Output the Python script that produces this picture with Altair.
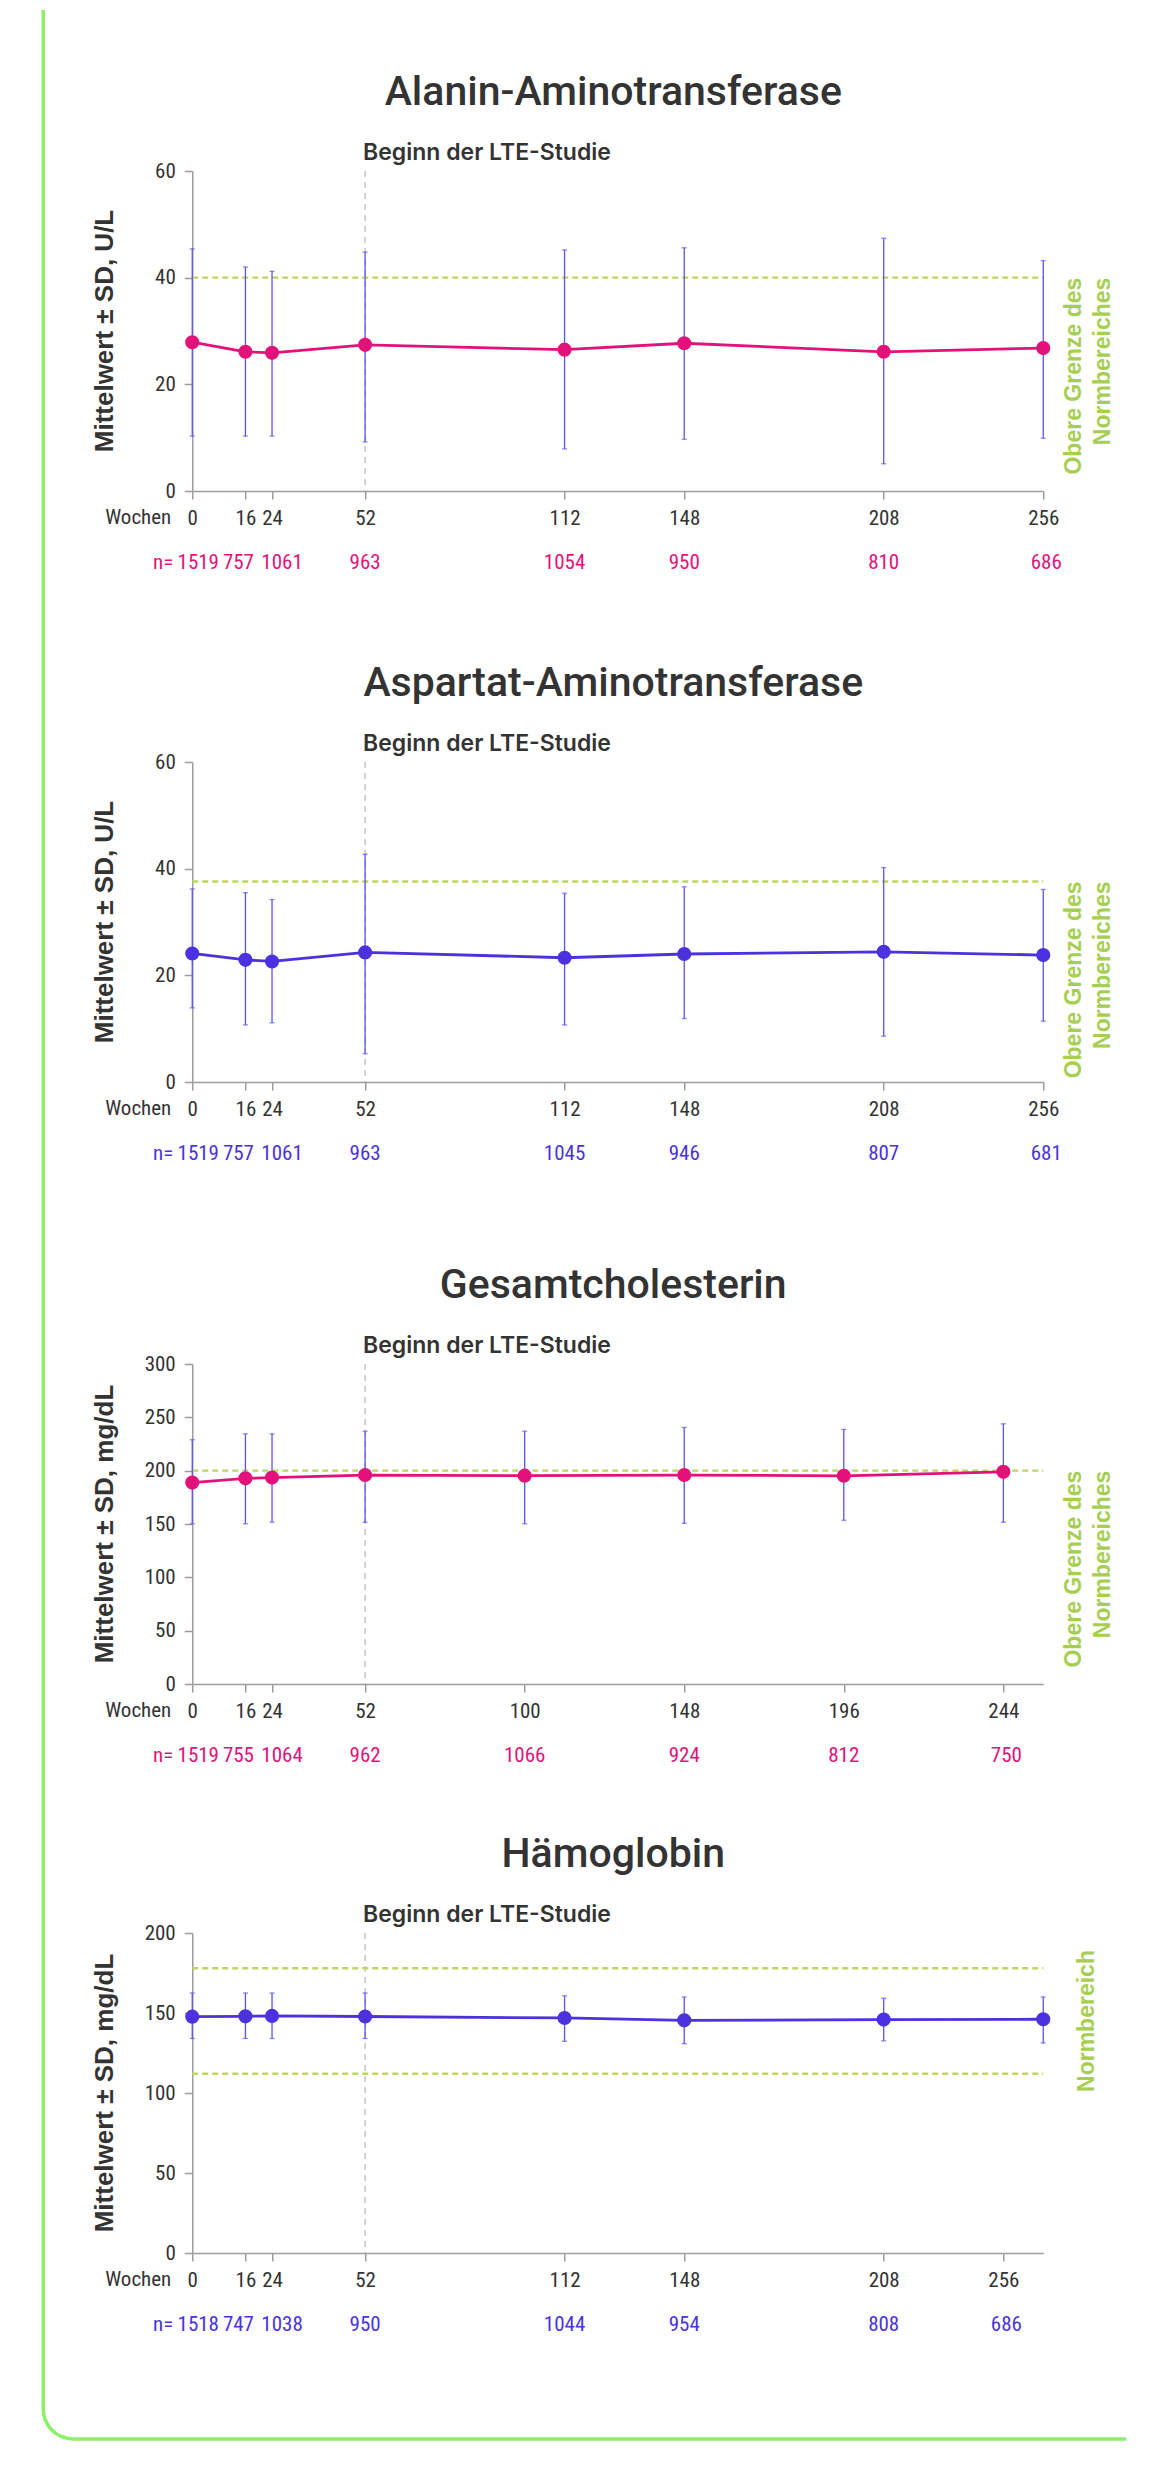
import math
import altair as alt
import pandas as pd

# ---------------- data ----------------
TITLES = ["Alanin-Aminotransferase", "Aspartat-Aminotransferase", "Gesamtcholesterin", "Hämoglobin"]
Y_TITLES = ["Mittelwert ± SD, U/L", "Mittelwert ± SD, U/L", "Mittelwert ± SD, mg/dL", "Mittelwert ± SD, mg/dL"]
SUBTITLE = "Beginn der LTE-Studie"
LTE_WEEK = 52
X_LABEL = "Wochen"
N_LABEL = "n="

# Alanin-Aminotransferase
alt_weeks = [0, 16, 24, 52, 112, 148, 208, 256]
alt_mean = [27.9, 26.1, 25.9, 27.4, 26.5, 27.7, 26.1, 26.8]
alt_hi = [45.4, 42.0, 41.2, 44.8, 45.2, 45.6, 47.4, 43.2]
alt_lo = [10.3, 10.3, 10.3, 9.2, 7.9, 9.7, 5.1, 9.9]
alt_n = [1519, 757, 1061, 963, 1054, 950, 810, 686]
alt_ticks = [0, 16, 24, 52, 112, 148, 208, 256]
alt_tick_labels = ["0", "16", "24", "52", "112", "148", "208", "256"]
alt_ref = [40]

# Aspartat-Aminotransferase
ast_weeks = [0, 16, 24, 52, 112, 148, 208, 256]
ast_mean = [24.1, 22.9, 22.6, 24.3, 23.3, 24.0, 24.4, 23.8]
ast_hi = [36.2, 35.5, 34.2, 42.7, 35.4, 36.6, 40.2, 36.1]
ast_lo = [13.9, 10.7, 11.1, 5.3, 10.7, 11.9, 8.6, 11.4]
ast_n = [1519, 757, 1061, 963, 1045, 946, 807, 681]
ast_ticks = [0, 16, 24, 52, 112, 148, 208, 256]
ast_tick_labels = ["0", "16", "24", "52", "112", "148", "208", "256"]
ast_ref = [37.6]

# Gesamtcholesterin
chol_weeks = [0, 16, 24, 52, 100, 148, 196, 244]
chol_mean = [188.8, 192.8, 193.5, 195.9, 195.3, 195.9, 195.2, 198.9]
chol_hi = [229.0, 234.5, 234.5, 237.0, 237.0, 240.5, 238.7, 243.9]
chol_lo = [150.2, 150.2, 151.7, 151.7, 150.2, 150.6, 153.5, 151.7]
chol_n = [1519, 755, 1064, 962, 1066, 924, 812, 750]
chol_ticks = [0, 16, 24, 52, 100, 148, 196, 244]
chol_tick_labels = ["0", "16", "24", "52", "100", "148", "196", "244"]
chol_ref = [200]

# Hämoglobin
hb_weeks = [0, 16, 24, 52, 112, 148, 208, 256]
hb_mean = [147.7, 147.9, 148.2, 147.8, 146.9, 145.4, 145.9, 146.1]
hb_hi = [162.5, 162.5, 162.5, 162.5, 160.8, 160.0, 159.2, 160.0]
hb_lo = [134.1, 134.1, 134.1, 134.1, 132.3, 130.8, 132.6, 131.3]
hb_n = [1518, 747, 1038, 950, 1044, 954, 808, 686]
hb_ticks = [0, 16, 24, 52, 112, 148, 208, 244]
hb_tick_labels = ["0", "16", "24", "52", "112", "148", "208", "256"]
hb_ref = [178, 112]

REF_TEXT_UPPER = "Obere Grenze des\nNormbereiches"
REF_TEXT_RANGE = "Normbereich"

# ---------------- styles ----------------
W, H = 851, 320
PINK = "#e2127a"
BLUE = "#4a32df"
ERR = "#5d52f2"
GREEN_TXT = "#a6cf52"
GREEN_LINE = "#bcd660"
BORDER = "#8cf068"
DARK = "#333333"
AXIS_GRAY = "#9d9d9d"
NARROW = "'Liberation Sans Narrow', 'Roboto Condensed', 'Liberation Sans', sans-serif"
TITLE_FONT = "Roboto"
SUB_FONT = "Inter, Roboto, sans-serif"
WIDE_BOLD = "'Liberation Sans', Arial, sans-serif"
N_DX = [6, -7, 10, 0, 0, 0, 0, 3]   # small horizontal nudges of the n labels (style)

one = pd.DataFrame({"k": [0]})


def label_expr(vals, labels):
    expr = "datum.label"
    for v, l in zip(vals, labels):
        expr = f"datum.value == {v} ? '{l}' : ({expr})"
    return expr


def panel(title, ytitle, weeks, mean, hi, lo, ns, ticks, tick_labels,
          y_max, y_step, color, refs, ref_text, border=False):
    df = pd.DataFrame({"week": weeks, "mean": mean, "hi": hi, "lo": lo})
    xscale = alt.Scale(domain=[0, 256], nice=False, zero=False)
    xaxis = alt.Axis(values=ticks, labelExpr=label_expr(ticks, tick_labels), title=None,
                     labelOverlap=False, labelFlush=False, grid=False, tickSize=8,
                     labelPadding=8)
    yscale = alt.Scale(domain=[0, y_max], nice=False, zero=True)
    yaxis = alt.Axis(values=list(range(0, y_max + 1, y_step)), title=None, grid=False,
                     tickSize=8, labelPadding=9, labelOverlap=False)

    def X(f):
        return alt.X(f, scale=xscale, axis=xaxis)

    def Y(f):
        return alt.Y(f, scale=yscale, axis=yaxis)

    base = alt.Chart(df)
    layers = []

    # vertical LTE start line
    layers.append(alt.Chart(one).mark_rule(color="#c6c6c6", strokeDash=[6, 5], strokeWidth=1.5)
                  .encode(x=alt.datum(LTE_WEEK), y=alt.value(0), y2=alt.value(H)))
    # reference lines
    layers.append(alt.Chart(pd.DataFrame({"ref": refs}))
                  .mark_rule(color=GREEN_LINE, strokeDash=[6, 4], strokeWidth=2.4)
                  .encode(y=Y("ref:Q"), x=alt.value(0), x2=alt.value(W)))
    # error bars
    layers.append(base.mark_rule(color=ERR, strokeWidth=1.3)
                  .encode(x=X("week:Q"), y=Y("lo:Q"), y2="hi:Q"))
    layers.append(base.mark_tick(color=ERR, thickness=1.3, size=5, orient="horizontal")
                  .encode(x=X("week:Q"), y=Y("hi:Q")))
    layers.append(base.mark_tick(color=ERR, thickness=1.3, size=5, orient="horizontal")
                  .encode(x=X("week:Q"), y=Y("lo:Q")))
    # mean line + points
    layers.append(base.mark_line(color=color, strokeWidth=2.8)
                  .encode(x=X("week:Q"), y=Y("mean:Q")))
    layers.append(base.mark_circle(color=color, size=200, opacity=1)
                  .encode(x=X("week:Q"), y=Y("mean:Q")))

    # texts
    layers.append(alt.Chart(pd.DataFrame({"t": [title]}))
                  .mark_text(font=TITLE_FONT, fontSize=41, fontWeight=500, color=DARK,
                             align="center", baseline="alphabetic")
                  .encode(text="t:N", x=alt.value(421), y=alt.value(-66)))
    layers.append(alt.Chart(pd.DataFrame({"t": [SUBTITLE]}))
                  .mark_text(font=SUB_FONT, fontSize=23, fontWeight=600, color=DARK,
                             align="left", baseline="alphabetic", dx=-2)
                  .encode(text="t:N", x=alt.datum(LTE_WEEK), y=alt.value(-11)))
    layers.append(alt.Chart(pd.DataFrame({"t": [ytitle]}))
                  .mark_text(font=WIDE_BOLD, fontSize=26, fontWeight="bold", color=DARK,
                             angle=270, align="center", baseline="middle")
                  .encode(text="t:N", x=alt.value(-87), y=alt.value(H / 2)))
    layers.append(alt.Chart(pd.DataFrame({"t": [X_LABEL]}))
                  .mark_text(font=NARROW, fontSize=21, color=DARK, align="right", baseline="middle")
                  .encode(text="t:N", x=alt.value(-21), y=alt.value(H + 27)))
    layers.append(alt.Chart(pd.DataFrame({"t": [N_LABEL]}))
                  .mark_text(font=NARROW, fontSize=21, color=color, align="right", baseline="middle")
                  .encode(text="t:N", x=alt.value(-19), y=alt.value(H + 72)))
    for tw, n, dx in zip(ticks, ns, N_DX):
        layers.append(alt.Chart(pd.DataFrame({"tw": [tw], "n": [str(n)]}))
                      .mark_text(font=NARROW, fontSize=21, color=color, align="center",
                                 baseline="middle", dx=dx)
                      .encode(text="n:N", x=X("tw:Q"), y=alt.value(H + 72)))

    # reference label
    if len(refs) == 1:
        layers.append(alt.Chart(pd.DataFrame({"t": [ref_text]}))
                      .mark_text(font=WIDE_BOLD, fontSize=23, fontWeight="bold", color=GREEN_TXT,
                                 angle=270, align="right", baseline="middle",
                                 lineBreak="\n", lineHeight=29)
                      .encode(text="t:N", x=alt.value(882), y=alt.datum(refs[0])))
    else:
        layers.append(alt.Chart(pd.DataFrame({"t": [ref_text]}))
                      .mark_text(font=WIDE_BOLD, fontSize=23, fontWeight="bold", color=GREEN_TXT,
                                 angle=270, align="center", baseline="middle")
                      .encode(text="t:N", x=alt.value(895), y=alt.datum(sum(refs) / len(refs))))

    if border:
        layers.append(alt.Chart(one).mark_rule(color=BORDER, strokeWidth=3.5)
                      .encode(x=alt.value(-149), y=alt.value(-161), y2=alt.value(2238)))
        layers.append(alt.Chart(one).mark_rule(color=BORDER, strokeWidth=3.5)
                      .encode(x=alt.value(-119), x2=alt.value(934), y=alt.value(2268)))
        layers.append(alt.Chart(one).mark_arc(color=BORDER, radius=31.75, radius2=28.25,
                                              theta=math.pi, theta2=1.5 * math.pi)
                      .encode(x=alt.value(-119), y=alt.value(2238)))

    return alt.layer(*layers).properties(width=W, height=H)


def spacer(h):
    return (alt.Chart(one).mark_point(opacity=0, size=1)
            .encode(x=alt.value(0), y=alt.value(0)).properties(width=W, height=h))


p1 = panel(TITLES[0], Y_TITLES[0], alt_weeks, alt_mean, alt_hi, alt_lo, alt_n, alt_ticks,
           alt_tick_labels, 60, 20, PINK, alt_ref, REF_TEXT_UPPER, border=True)
p2 = panel(TITLES[1], Y_TITLES[1], ast_weeks, ast_mean, ast_hi, ast_lo, ast_n, ast_ticks,
           ast_tick_labels, 60, 20, BLUE, ast_ref, REF_TEXT_UPPER)
p3 = panel(TITLES[2], Y_TITLES[2], chol_weeks, chol_mean, chol_hi, chol_lo, chol_n, chol_ticks,
           chol_tick_labels, 300, 50, PINK, chol_ref, REF_TEXT_UPPER)
p4 = panel(TITLES[3], Y_TITLES[3], hb_weeks, hb_mean, hb_hi, hb_lo, hb_n, hb_ticks,
           hb_tick_labels, 200, 50, BLUE, hb_ref, REF_TEXT_RANGE)

chart = alt.vconcat(
    p1, spacer(271), p2, spacer(282), p3, spacer(249), p4,
    spacing=0, bounds="flush",
    padding={"left": 33.25, "top": 0, "right": 5, "bottom": 5},
).configure_view(stroke=None).configure_axis(
    labelFont=NARROW, labelFontSize=21, labelColor=DARK,
    domainColor=AXIS_GRAY, tickColor=AXIS_GRAY, domainWidth=1.5, tickWidth=1.5,
)

chart.save("out.html", embed_options={"renderer": "svg", "actions": False})
